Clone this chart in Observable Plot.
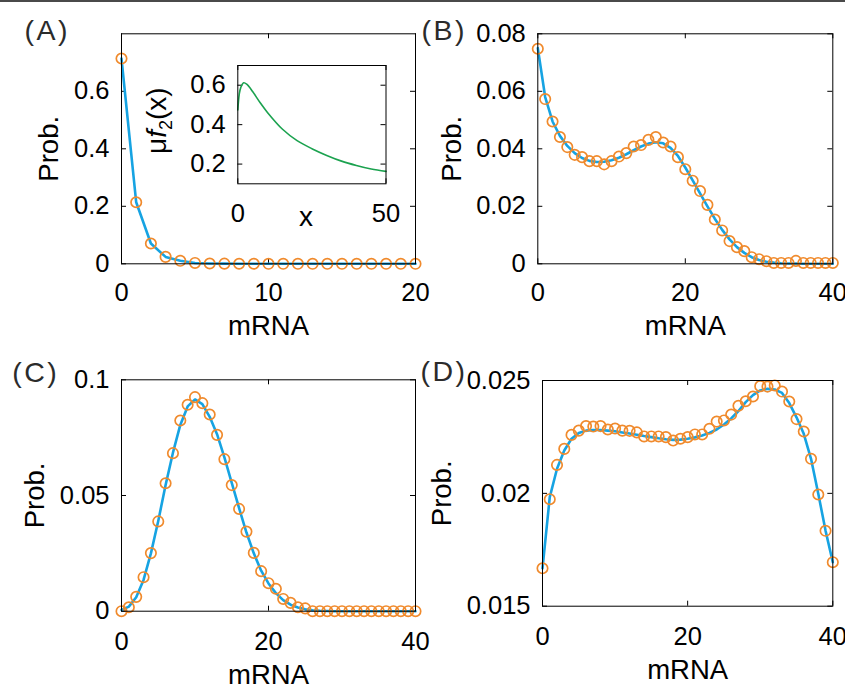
<!DOCTYPE html>
<html><head><meta charset="utf-8">
<script src="https://cdn.jsdelivr.net/npm/d3@7"></script>
<script src="https://cdn.jsdelivr.net/npm/@observablehq/plot@0.6"></script>
<style>
body{margin:0;background:#fff}
#fig{position:relative;width:845px;height:686px;overflow:hidden;background:#fff}
#fig > svg{position:absolute;overflow:visible;background:transparent;max-width:none}
#topline{position:absolute;left:0;top:0;width:845px;height:2px;background:#4a4a4a}
</style></head><body><div id="fig"><div id="topline"></div></div>
<script>
// ---------- data ----------
const mrna20 = [0,1,2,3,4,5,6,7,8,9,10,11,12,13,14,15,16,17,18,19,20];
const mrna40 = [0,1,2,3,4,5,6,7,8,9,10,11,12,13,14,15,16,17,18,19,20,21,22,23,24,25,26,27,28,29,30,31,32,33,34,35,36,37,38,39,40];

// Panel A
const lineA = [0.714,0.214,0.0706,0.024,0.0104,0.003,0.001,0.0005,0.0002,0.0001,0,0,0,0,0,0,0,0,0,0,0];
const simA  = [0.714,0.214,0.0706,0.024,0.0104,0.003,0.001,0.0005,0.0002,0.0001,0,0,0,0,0,0,0,0,0,0,0];
// Inset of A
const insetX = [0,0.5,1,2,3,5,7.5,10,15,20,25,30,35,40,45,50];
const insetY = [0.474,0.555,0.588,0.612,0.605,0.568,0.512,0.462,0.378,0.319,0.278,0.244,0.215,0.193,0.175,0.163];

// Panel B
const lineB = [0.075,0.058,0.0495,0.0445,0.041,0.0385,0.0368,0.0358,0.0354,0.0355,0.036,0.0369,0.0381,0.0395,0.0408,0.0418,0.0423,0.0419,0.0403,0.0375,0.0335,0.029,0.0245,0.02,0.0157,0.0118,0.0085,0.0058,0.0038,0.0023,0.0013,0.0007,0.0004,0.0002,0.0001,0.0001,0,0,0,0,0];
const simB  = [0.0748,0.0573,0.0495,0.0441,0.0406,0.0379,0.0371,0.0357,0.0357,0.0346,0.0357,0.0373,0.0385,0.0408,0.0413,0.0431,0.0441,0.0422,0.0408,0.0371,0.0329,0.0289,0.0253,0.0205,0.0154,0.0116,0.0079,0.0058,0.0044,0.0023,0.0016,0.0009,0.0003,0.0003,0.0003,0.001,0.0003,0.0003,0.0003,0.0003,0.0003];

// Panel C
const lineC = [0.0005,0.002,0.006,0.0135,0.025,0.039,0.0545,0.0685,0.0805,0.0885,0.0915,0.0895,0.084,0.0765,0.0665,0.0555,0.0445,0.034,0.025,0.0175,0.012,0.0078,0.0048,0.0028,0.0016,0.0008,0.0004,0.0002,0.0001,0,0,0,0,0,0,0,0,0,0,0,0];
const simC  = [0,0.0017,0.0062,0.0147,0.0251,0.0388,0.0553,0.0683,0.0824,0.0892,0.0925,0.0899,0.085,0.0762,0.0657,0.0545,0.0442,0.0344,0.0252,0.0173,0.0121,0.0097,0.0053,0.0036,0.0017,0.0012,0,0,0,0,0,0,0,0,0,0,0,0,0,0,0];

// Panel D
const lineD = [0.01668,0.01983,0.02109,0.0219,0.02242,0.02267,0.02278,0.02281,0.02281,0.02278,0.02275,0.0227,0.02265,0.0226,0.02254,0.02249,0.02244,0.0224,0.02237,0.02238,0.02242,0.02248,0.02256,0.02268,0.02283,0.02305,0.02332,0.02365,0.02404,0.02435,0.02456,0.02463,0.0246,0.02445,0.024,0.02337,0.02264,0.02153,0.01998,0.01835,0.01695];
const simD  = [0.01668,0.01974,0.02126,0.02197,0.02259,0.02278,0.02298,0.02296,0.02298,0.02283,0.02287,0.02278,0.02277,0.0227,0.02252,0.02252,0.02252,0.02249,0.02234,0.02242,0.02249,0.02261,0.02261,0.02286,0.02318,0.02323,0.02349,0.02388,0.02408,0.02429,0.02475,0.02473,0.02478,0.02451,0.02407,0.02329,0.02274,0.02153,0.01995,0.01834,0.01695];

// tick labels
const xTicksA = [0,10,20];
const yTicksA = [0,0.2,0.4,0.6];
const xTicks40 = [0,20,40];
const yTicksB = [0,0.02,0.04,0.06,0.08];
const yTicksC = [0,0.05,0.1];
const yTicksD = [0.015,0.02,0.025];
const xTicksInset = [0,50];
const yTicksInset = [0.2,0.4,0.6];

// ---------- style ----------
const BLUE = "#16a3e2", ORANGE = "#f08a2c", GREEN = "#1ba24f";
const FONT = "'Liberation Sans', Arial, Helvetica, sans-serif";
const TICKFS = 25.5, LABFS = 27.5;
const fmt = d => String(d);
const fig = document.getElementById("fig");
const SVGNS = "http://www.w3.org/2000/svg";

function inwardTicks(xt, yt, fw, fh, len) {
  return [
    Plot.tickX(xt, {x: d => d, insetTop: fh - len, stroke: "black", strokeWidth: 1}),
    Plot.tickX(xt, {x: d => d, insetBottom: fh - len, stroke: "black", strokeWidth: 1}),
    Plot.tickY(yt, {y: d => d, insetRight: fw - len, stroke: "black", strokeWidth: 1}),
    Plot.tickY(yt, {y: d => d, insetLeft: fw - len, stroke: "black", strokeWidth: 1})
  ];
}

function panel(o) {
  const fw = o.w - o.mL - o.mR, fh = o.h - o.mT - o.mB;
  const marks = [
    ...inwardTicks(o.xTicks, o.yTicks, fw, fh, 5),
    Plot.axisX(o.xTicks, {tickSize: 0, tickPadding: o.xPad, tickFormat: fmt, fontSize: TICKFS, label: null, fill: "black"}),
    Plot.axisY(o.yTicks, {tickSize: 0, tickPadding: 12, tickFormat: fmt, fontSize: TICKFS, label: null, fill: "black"}),
    Plot.text([o.xlabel], {text: d => d, frameAnchor: "bottom", dy: o.xlabDy, dx: o.xlabDx || 0, lineAnchor: "bottom", fontSize: o.labfs || LABFS, fill: "black"}),
    Plot.text([o.ylabel], {text: d => d, frameAnchor: "left", rotate: -90, dx: -o.ylabDx, dy: o.ylabDy || 0, lineAnchor: "bottom", textAnchor: "middle", fontSize: o.labfs || LABFS, fill: "black"})
  ];
  if (o.letter) marks.push(Plot.text([o.letter], {text: d => d, frameAnchor: "top-left", dx: o.letDx, dy: o.letDy, textAnchor: "start", lineAnchor: "bottom", fontSize: 28.5, fill: "#2b2b2b"}));
  if (o.lineY) marks.push(Plot.line(o.xs, {x: d => d, y: (d, i) => o.lineY[i], stroke: o.lineColor || BLUE, strokeWidth: o.lineW || 2.6, curve: o.curve || "linear"}));
  if (o.simY) marks.push(Plot.dot(o.xs, {x: d => d, y: (d, i) => o.simY[i], r: 5.2, stroke: ORANGE, strokeWidth: 1.7, fill: "none"}));
  marks.push(Plot.frame({stroke: "black", strokeWidth: 1}));
  const svg = Plot.plot({
    width: o.w, height: o.h,
    marginLeft: o.mL, marginRight: o.mR, marginTop: o.mT, marginBottom: o.mB,
    x: {domain: o.xDomain, axis: null},
    y: {domain: o.yDomain, axis: null},
    style: {fontFamily: FONT, overflow: "visible", background: "transparent"},
    marks
  });
  svg.style.left = o.left + "px";
  svg.style.top = o.top + "px";
  svg.querySelectorAll("text").forEach(t => {
    if (/^\([A-D]\)$/.test(t.textContent)) t.setAttribute("letter-spacing", "2.5");
    if (t.textContent === "μf2(x)") {
      const tr = t.getAttribute("transform");
      while (t.firstChild) t.removeChild(t.firstChild);
      const parts = [["μ", {}], ["f", {"font-style": "italic"}], ["2", {"font-size": "18", "dy": "6"}], ["(x)", {"dy": "-6"}]];
      for (const [s, attrs] of parts) {
        const ts = document.createElementNS(SVGNS, "tspan");
        for (const k in attrs) ts.setAttribute(k, attrs[k]);
        ts.textContent = s;
        t.appendChild(ts);
      }
      if (tr) t.setAttribute("transform", tr);
    }
  });
  fig.appendChild(svg);
}

// Panel A
panel({left: 0, top: 0, w: 415, h: 340, mL: 121, mR: 0, mT: 33.3, mB: 76.7,
  xDomain: [0, 20], yDomain: [0, 0.8], xTicks: xTicksA, yTicks: yTicksA, xPad: 19.5,
  xs: mrna20, lineY: lineA, simY: simA, xlabel: "mRNA", xlabDy: 71.5, ylabel: "Prob.", ylabDx: 64,
  letter: "(A)", letDx: -97, letDy: 6});
// Inset
panel({left: 140, top: 40, w: 260, h: 200, mL: 97.3, mR: 14.5, mT: 25, mB: 56.7,
  xDomain: [0, 50], yDomain: [0.1, 0.7], xTicks: xTicksInset, yTicks: yTicksInset, xPad: 20.5,
  xs: insetX, lineY: insetY, lineColor: GREEN, lineW: 1.6, curve: "catmull-rom",
  xlabel: "x", xlabDy: 41.7, xlabDx: -6, labfs: 28, ylabel: "μf2(x)", ylabDx: 72, ylabDy: -4});
// Panel B
panel({left: 415, top: 0, w: 430, h: 340, mL: 122.3, mR: 12.7, mT: 33.3, mB: 76.7,
  xDomain: [0, 40], yDomain: [0, 0.08], xTicks: xTicks40, yTicks: yTicksB, xPad: 19.5,
  xs: mrna40, lineY: lineB, simY: simB, xlabel: "mRNA", xlabDy: 71.5, ylabel: "Prob.", ylabDx: 77,
  letter: "(B)", letDx: -116.3, letDy: 6});
// Panel C
panel({left: 0, top: 340, w: 415, h: 346, mL: 121, mR: 0, mT: 39.3, mB: 75.3,
  xDomain: [0, 40], yDomain: [0, 0.1], xTicks: xTicks40, yTicks: yTicksC, xPad: 21,
  xs: mrna40, lineY: lineC, simY: simC, xlabel: "mRNA", xlabDy: 72.6, ylabel: "Prob.", ylabDx: 78,
  letter: "(C)", letDx: -109.3, letDy: 2});
// Panel D
panel({left: 415, top: 340, w: 430, h: 346, mL: 127, mR: 12.7, mT: 40, mB: 80.3,
  xDomain: [0, 40], yDomain: [0.015, 0.025], xTicks: xTicks40, yTicks: yTicksD, xPad: 21,
  xs: mrna40, lineY: lineD, simY: simD, xlabel: "mRNA", xlabDy: 72.6, ylabel: "Prob.", ylabDx: 92,
  letter: "(D)", letDx: -122, letDy: 0});
</script></body></html>
